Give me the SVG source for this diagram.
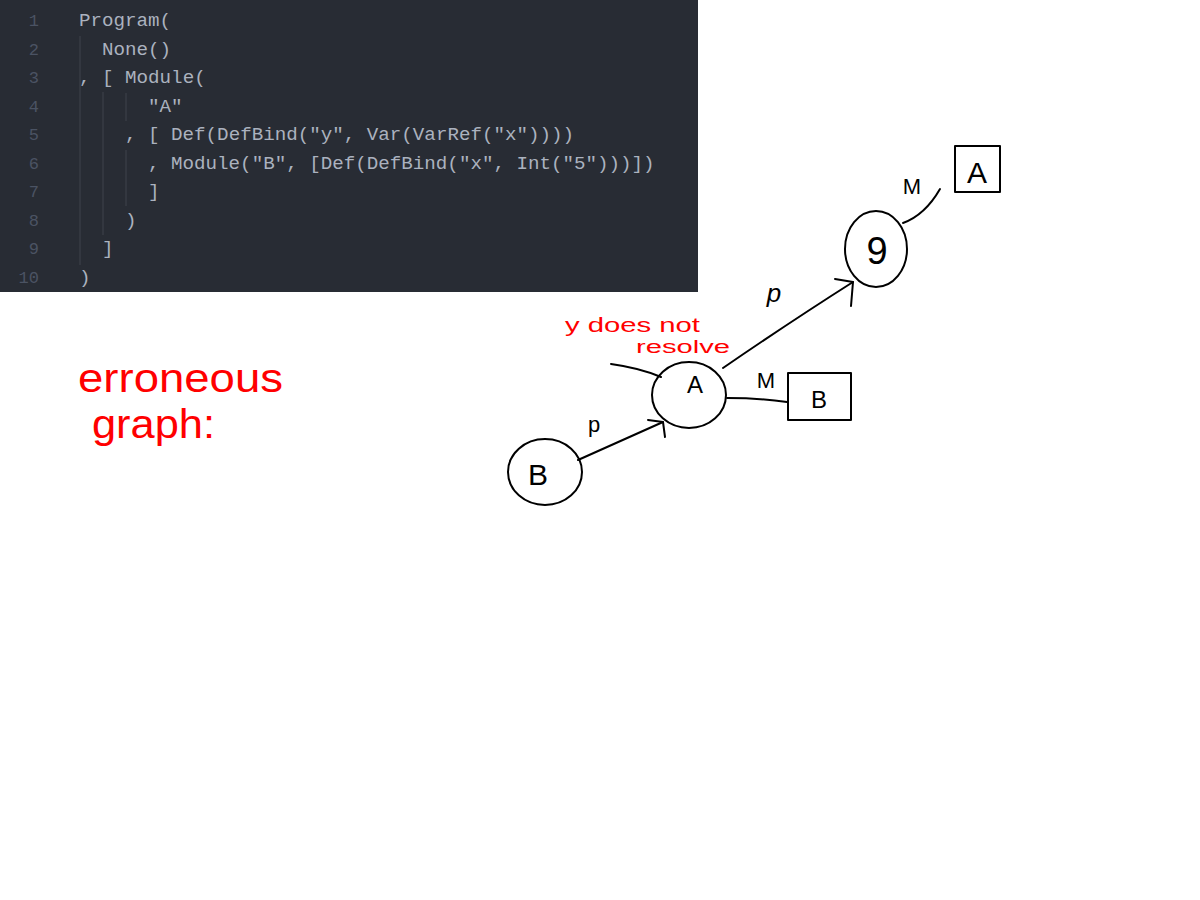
<svg xmlns="http://www.w3.org/2000/svg" width="1200" height="900" viewBox="0 0 1200 900">
<style>
.code{font-family:"Liberation Mono","DejaVu Sans Mono",monospace;font-size:19.2px;fill:#abb2bf}
.ln{font-family:"Liberation Mono","DejaVu Sans Mono",monospace;font-size:17px;fill:#4b5363;text-anchor:end}
.guide{stroke:#3b4048;stroke-width:1.2}
.ink{fill:none;stroke:#000;stroke-width:2;stroke-linecap:round;stroke-linejoin:round}
.lbl{font-family:"Liberation Sans","DejaVu Sans",sans-serif;fill:#000;text-anchor:middle}
.red{font-family:"Liberation Sans","DejaVu Sans",sans-serif;fill:#f00}
</style>
<rect width="1200" height="900" fill="#fff"/>
<g id="code-panel">
<rect x="0" y="0" width="698" height="292" fill="#282c34"/>
<line class="guide" x1="80" y1="36" x2="80" y2="265"/>
<line class="guide" x1="103" y1="92" x2="103" y2="235"/>
<line class="guide" x1="126" y1="93" x2="126" y2="121"/>
<line class="guide" x1="126" y1="150" x2="126" y2="206"/>
<text class="ln" x="39" y="26">1</text>
<text class="ln" x="39" y="55">2</text>
<text class="ln" x="39" y="83">3</text>
<text class="ln" x="39" y="112">4</text>
<text class="ln" x="39" y="140">5</text>
<text class="ln" x="39" y="169">6</text>
<text class="ln" x="39" y="197">7</text>
<text class="ln" x="39" y="226">8</text>
<text class="ln" x="39" y="254">9</text>
<text class="ln" x="39" y="283">10</text>
<text class="code" x="79" y="26">Program(</text>
<text class="code" x="102" y="55">None()</text>
<text class="code" x="79" y="83">, [ Module(</text>
<text class="code" x="148" y="112">"A"</text>
<text class="code" x="125" y="140">, [ Def(DefBind("y", Var(VarRef("x"))))</text>
<text class="code" x="148" y="169">, Module("B", [Def(DefBind("x", Int("5")))])</text>
<text class="code" x="148" y="197">]</text>
<text class="code" x="125" y="226">)</text>
<text class="code" x="102" y="254">]</text>
<text class="code" x="79" y="283">)</text>
</g>
<g id="caption">
<text class="red" x="78" y="392" font-size="40" textLength="205" lengthAdjust="spacingAndGlyphs">erroneous</text>
<text class="red" x="92" y="438" font-size="40" textLength="123" lengthAdjust="spacingAndGlyphs">graph:</text>
</g>
<g id="connectors">
<path class="ink" d="M578 460 L663 422"/>
<path class="ink" d="M648 420 L663 422 L665 437"/>
<path class="ink" d="M611 364 Q640 368 661 377"/>
<path class="ink" d="M723 368 Q790 322 853 282"/>
<path class="ink" d="M835 279 L853 282 L851 306"/>
<path class="ink" d="M903 223 Q925 215 940 189"/>
<path class="ink" d="M727 398 Q760 398 787 402"/>
<text class="lbl" x="594" y="432" font-size="22">p</text>
<text class="lbl" x="774" y="302" font-size="26" font-style="italic">p</text>
<text class="lbl" x="912" y="194" font-size="22">M</text>
<text class="lbl" x="766" y="388" font-size="22">M</text>
</g>
<g id="node-B">
<ellipse class="ink" cx="545" cy="472" rx="37" ry="33"/>
<text class="lbl" x="538" y="485" font-size="30">B</text>
</g>
<g id="node-A">
<ellipse class="ink" cx="689" cy="395" rx="37" ry="33"/>
<text class="lbl" x="695" y="393" font-size="24">A</text>
</g>
<g id="node-9">
<ellipse class="ink" cx="876" cy="249" rx="31" ry="38"/>
<text class="lbl" x="877" y="264" font-size="38">9</text>
</g>
<g id="box-A">
<rect class="ink" x="955" y="146" width="45" height="46"/>
<text class="lbl" x="977" y="183" font-size="30">A</text>
</g>
<g id="box-B">
<rect class="ink" x="788" y="373" width="63" height="47"/>
<text class="lbl" x="819" y="408" font-size="24">B</text>
</g>
<g id="annotation">
<text class="red" x="565" y="332" font-size="20" textLength="135" lengthAdjust="spacingAndGlyphs">y does not</text>
<text class="red" x="636" y="353" font-size="18" textLength="94" lengthAdjust="spacingAndGlyphs">resolve</text>
</g>
</svg>
